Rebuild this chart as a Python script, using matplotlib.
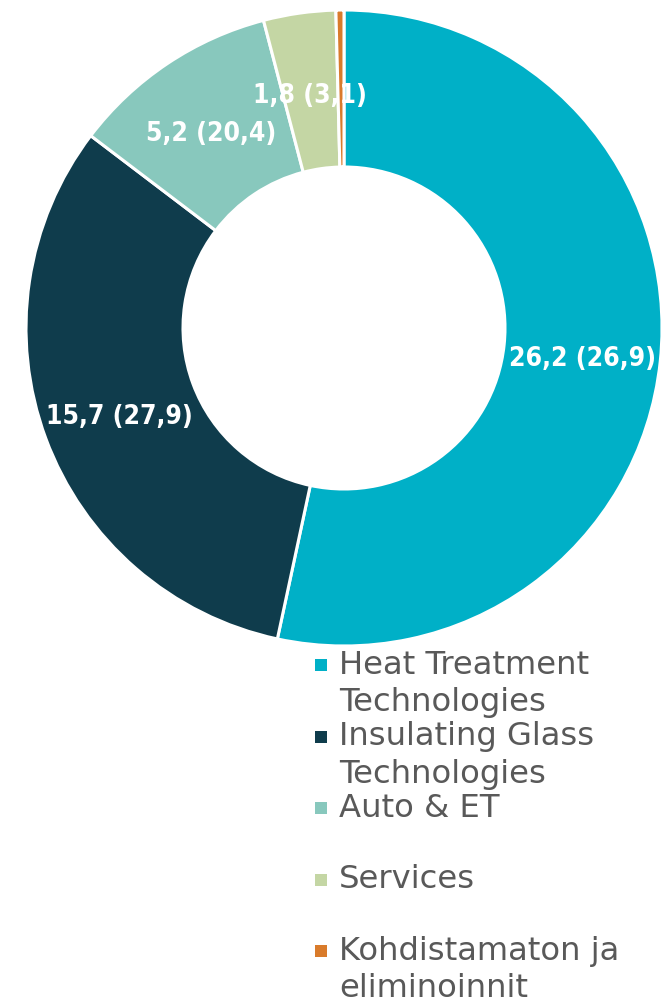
import matplotlib
matplotlib.use("Agg")
import matplotlib.pyplot as plt
import numpy as np

categories = ["Heat Treatment\nTechnologies", "Insulating Glass\nTechnologies",
              "Auto & ET", "Services", "Kohdistamaton ja\neliminoinnit"]
values = [26.2, 15.7, 5.2, 1.8, 0.2]
labels = ["26,2 (26,9)", "15,7 (27,9)", "5,2 (20,4)", "1,8 (3,1)", "-0,2 (-0,5)"]
colors = ["#00B0C7", "#0F3C4C", "#88C8BD", "#C4D6A4", "#D97B2B"]

W, H = 661, 1001
fig = plt.figure(figsize=(W / 100, H / 100), dpi=100)
ax = fig.add_axes([0, 0, 1, 1])

cx, cy, R, w = 344, H - 328, 318, 157
wedges, _ = ax.pie(values, colors=colors, startangle=90, counterclock=False,
                   center=(cx, cy), radius=R,
                   wedgeprops=dict(width=w, edgecolor="white", linewidth=2.2))
ax.set_xlim(0, W)
ax.set_ylim(0, H)
ax.set_aspect("equal")
ax.axis("off")

lab_font = dict(family="DejaVu Sans", fontstretch="condensed", fontweight="bold",
                fontsize=19)
for i, (wd, lab) in enumerate(zip(wedges, labels)):
    mid = np.deg2rad((wd.theta1 + wd.theta2) / 2)
    r = 240 if i < 4 else 345
    x, y = cx + r * np.cos(mid), cy + r * np.sin(mid) - 6
    ax.text(x, y, lab, ha="center", va="center",
            color="white" if i < 4 else "#2F5564", **lab_font)

# legend
for i, (cat, col) in enumerate(zip(categories, colors)):
    ytop = 652 + i * 71.5
    ax.scatter([321], [H - ytop - 13], marker="s", s=85, color=col, linewidths=0)
    ax.text(339, H - ytop + 2, cat, ha="left", va="top", fontsize=23.2,
            color="#595959", family="DejaVu Sans", linespacing=1.25)

fig.savefig("out.png", dpi=100)
